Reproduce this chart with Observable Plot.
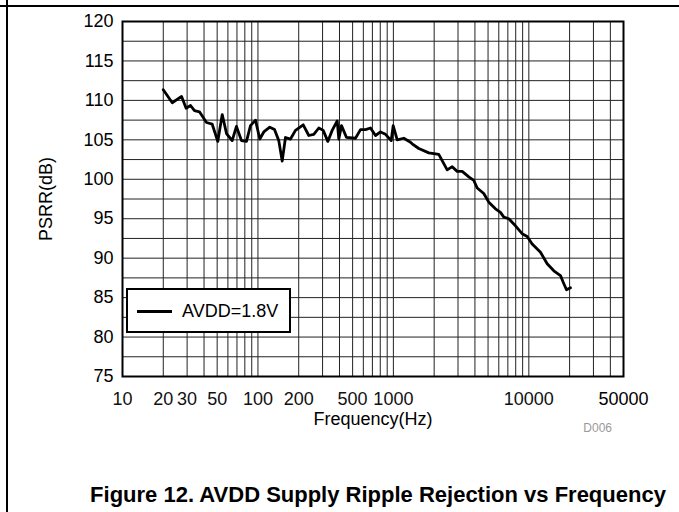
<!DOCTYPE html>
<html><head><meta charset="utf-8">
<script src="https://cdn.jsdelivr.net/npm/d3@7"></script>
<script src="https://cdn.jsdelivr.net/npm/@observablehq/plot@0.6"></script>
<style>
body{margin:0;background:#fff;font-family:"Liberation Sans",Arial,sans-serif;}
#wrap{position:relative;width:679px;height:512px;overflow:hidden;background:#fff;}
#chart{position:absolute;left:0;top:0;}
.hline{position:absolute;left:0;top:5px;width:679px;height:2px;background:#000;}
.vline{position:absolute;left:6px;top:0;width:2px;height:512px;background:#000;}
#legend{position:absolute;left:126px;top:288px;width:161px;height:41px;border:2px solid #000;background:#fff;}
#legend .sw{position:absolute;left:9px;top:20px;width:35px;height:3px;background:#000;}
#legend .lt{position:absolute;left:54px;top:10px;font-size:18px;line-height:22px;color:#000;}
#d006{position:absolute;right:67px;top:421px;font-size:12px;color:#999;}
#title{position:absolute;left:0;width:756px;text-align:center;top:482px;font-size:22px;font-weight:bold;color:#000;white-space:nowrap;}
</style></head><body>
<div id="wrap">
  <div id="chart"></div>
  <div class="hline"></div>
  <div class="vline"></div>
  <div id="legend"><div class="sw"></div><div class="lt">AVDD=1.8V</div></div>
  <div id="d006">D006</div>
  <div id="title">Figure 12. AVDD Supply Ripple Rejection vs Frequency</div>
</div>
<script>
const freqHz = [20.0, 23.3, 27.3, 29.5, 31.8, 34.0, 37.0, 41.7, 45.9, 50.5, 54.5, 58.6, 64.5, 69.4, 75.6, 82.3, 88.1, 95.9, 103.2, 110.4, 122.3, 132.5, 142.5, 151, 159.7, 173.9, 189.3, 215.9, 237.4, 258.4, 281.4, 303.3, 328, 353.3, 384.8, 395.4, 414, 450.6, 525, 571.7, 622.5, 677.8, 738, 803.6, 875, 963.5, 996.6, 1067, 1194, 1337, 1376, 1540, 1825, 2163, 2496, 2718, 2959, 3221, 3604, 3924, 4158, 4649, 5062, 5670, 6175, 6536, 7117, 7967, 8925, 9720, 10584, 12190, 13660, 15290, 17130, 17940, 18970, 20300];
const psrrDb = [111.35, 109.7, 110.5, 109.0, 109.35, 108.7, 108.55, 107.2, 107.0, 104.8, 108.2, 105.8, 104.9, 106.7, 104.9, 104.8, 106.8, 107.5, 105.1, 106.0, 106.6, 106.3, 104.9, 102.3, 105.3, 105.1, 106.2, 106.9, 105.55, 105.7, 106.5, 106.2, 104.8, 106.2, 107.4, 105.1, 106.8, 105.3, 105.2, 106.3, 106.3, 106.5, 105.55, 106.0, 105.7, 104.9, 106.8, 105.0, 105.2, 104.7, 104.5, 103.9, 103.35, 103.15, 101.2, 101.6, 101.0, 101.0, 100.3, 99.85, 98.9, 98.2, 97.1, 96.25, 95.8, 95.2, 95.0, 94.1, 93.1, 92.75, 91.8, 90.75, 89.3, 88.4, 87.8, 86.95, 86.0, 86.25];
const xTickLabels = [10, 20, 30, 50, 100, 200, 500, 1000, 10000, 50000];
const yTickLabels = [75, 80, 85, 90, 95, 100, 105, 110, 115, 120];

const data = freqHz.map((f, i) => ({f, v: psrrDb[i]}));
const xGrid = [];
for (let d = 10; d < 50000; d *= 10) for (let k = 1; k < 10; k++) { if (d * k <= 50000) xGrid.push(d * k); }
const yGrid = d3.range(75, 120.01, 2.5);

const chart = Plot.plot({
  width: 679, height: 440,
  marginLeft: 122, marginRight: 56, marginTop: 21, marginBottom: 64,
  style: {fontFamily: "'Liberation Sans', Arial, sans-serif", fontSize: "18px", color: "#000", background: "transparent"},
  x: {type: "log", domain: [10, 50000]},
  y: {domain: [75, 120]},
  marks: [
    Plot.ruleX(xGrid, {stroke: "#222", strokeWidth: 1}),
    Plot.ruleY(yGrid, {stroke: "#222", strokeWidth: 1}),
    Plot.axisX({ticks: [], tickSize: 0, fontSize: 18,
      label: "Frequency(Hz)", labelAnchor: "center", labelArrow: "none", labelOffset: 48}),
    Plot.text(xTickLabels, {x: d => d, text: d => String(d), frameAnchor: "bottom", lineAnchor: "top",
      dy: 16, fontSize: 18, fill: d => d === 50000 ? "#000" : "#111", fontWeight: d => d === 50000 ? "bold" : "normal"}),
    Plot.axisY(yTickLabels, {tickSize: 0, tickPadding: 9, fontSize: 18,
      label: "PSRR(dB)", labelAnchor: "center", labelArrow: "none", labelOffset: 83}),
    Plot.line(data, {x: "f", y: "v", stroke: "#000", strokeWidth: 2.8, strokeLinejoin: "round"}),
    Plot.frame({stroke: "#000", strokeWidth: 2})
  ]
});
document.getElementById("chart").appendChild(chart);
</script>
</body></html>
